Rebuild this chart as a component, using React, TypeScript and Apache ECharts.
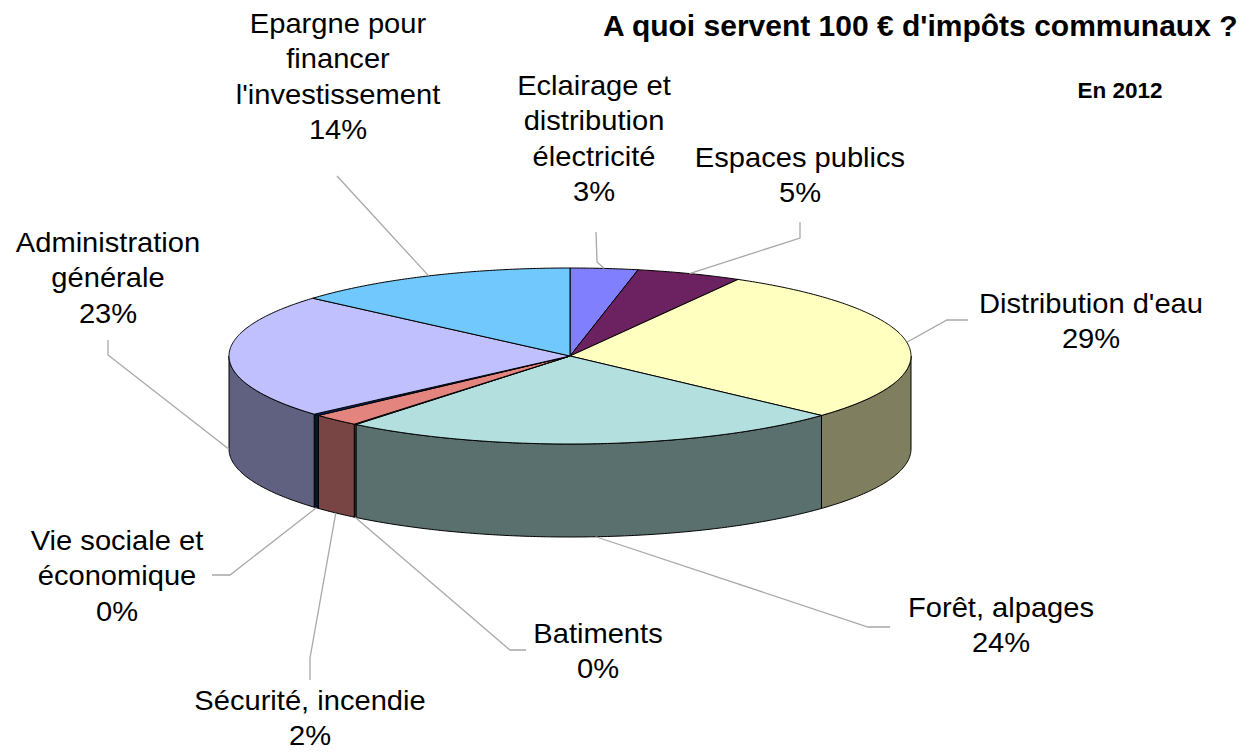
import React, { useEffect, useRef } from "react";
import * as echarts from "echarts";

// ---- data ----
const categories = [
  "Eclairage et\ndistribution\nélectricité",
  "Espaces publics",
  "Distribution d'eau",
  "Forêt, alpages",
  "Batiments",
  "Sécurité, incendie",
  "Vie sociale et\néconomique",
  "Administration\ngénérale",
  "Epargne pour\nfinancer\nl'investissement",
];
const values = [3.2, 5.0, 28.6, 24.0, 0.1, 2.3, 0.3, 22.9, 13.6];
const titleText = "A quoi servent 100 € d'impôts communaux ?";
const subtitleText = "En 2012";

// ---- styles / layout ----
const topColors = ["#8080FF", "#6C2160", "#FFFFC0", "#B3DFDE", "#9A9A9A", "#E3847F", "#0A2A6E", "#C0C0FF", "#70C8FC"];
const sideColors = ["#404080", "#361030", "#7F7F60", "#59706E", "#4D4D4D", "#784444", "#051537", "#606080", "#38647E"];
const labelPos: number[][] = [
  [594, 67], [800, 139], [1091, 285], [1001, 589], [598, 615], [310, 682], [117, 522], [108, 224], [338, 5],
];
const leaderPts: number[][][] = [
  [[596, 232], [597, 262]],
  [[800, 222], [800, 238]],
  [[968, 320], [947, 320]],
  [[890, 627], [868, 627]],
  [[526, 650], [510, 650]],
  [[310, 680], [310, 658]],
  [[212, 575], [230, 575]],
  [[108, 340], [108, 355]],
  [[337, 176]],
];
const CX = 570, CY = 356, RX = 341, RY = 88, DEPTH = 93;
const FONT = '28px "Liberation Sans", Arial, sans-serif';
const SX = 1.04;
const LINE_H = 35.5;

export default function App() {
  const ref = useRef<HTMLDivElement>(null);
  useEffect(() => {
    if (!ref.current) return;
    const chart = echarts.init(ref.current, undefined, { renderer: "svg" });
    const total = values.reduce((a, b) => a + b, 0);
    const cum: number[] = [];
    let acc = 0;
    values.forEach((v) => { cum.push(acc); acc += v; });
    const TWO_PI = Math.PI * 2;

    const renderItem = (params: any, api: any) => {
      const i = params.dataIndex;
      const v = api.value(0) as number;
      const a0 = (cum[i] / total) * TWO_PI;
      const a1 = a0 + (v / total) * TWO_PI;
      const pt = (a: number, dy = 0) => [CX + RX * Math.sin(a), CY - RY * Math.cos(a) + dy];
      const arc = (s: number, e: number, dy = 0) => {
        const n = Math.max(2, Math.ceil(Math.abs(e - s) / 0.01));
        const out: number[][] = [];
        for (let k = 0; k <= n; k++) out.push(pt(s + ((e - s) * k) / n, dy));
        return out;
      };
      const children: any[] = [];
      const w0 = Math.max(a0, Math.PI / 2);
      const w1 = Math.min(a1, (3 * Math.PI) / 2);
      if (w1 > w0) {
        const wall = [...arc(w0, w1), ...arc(w1, w0, DEPTH)];
        children.push({
          type: "polygon",
          shape: { points: wall },
          style: { fill: sideColors[i], stroke: "#000", lineWidth: 1 },
        });
      }
      const top = [[CX, CY], ...arc(a0, a1)];
      children.push({
        type: "polygon",
        shape: { points: top },
        style: { fill: topColors[i], stroke: "#000", lineWidth: 1 },
      });
      const mid = (a0 + a1) / 2;
      const anchor = mid > Math.PI / 2 && mid <= (3 * Math.PI) / 2 ? pt(mid, DEPTH) : pt(mid);
      children.push({
        type: "polyline",
        shape: { points: [...leaderPts[i], anchor] },
        style: { stroke: "#A8A8A8", lineWidth: 1.3, fill: null },
      });
      children.push({
        type: "text",
        x: labelPos[i][0],
        y: labelPos[i][1],
        scaleX: SX,
        style: {
          text: categories[i] + "\n" + Math.round(v) + "%",
          x: 0,
          y: 0,
          align: "center",
          verticalAlign: "top",
          textAlign: "center",
          textVerticalAlign: "top",
          font: FONT,
          lineHeight: LINE_H,
          fill: "#000",
        },
      });
      return { type: "group", children };
    };

    chart.setOption({
      animation: false,
      backgroundColor: "#ffffff",
      graphic: [
        {
          type: "text",
          x: 603,
          y: 25,
          style: {
            text: titleText,
            x: 0,
            y: 0,
            align: "left",
            verticalAlign: "middle",
            textAlign: "left",
            textVerticalAlign: "middle",
            font: 'bold 30px "Liberation Sans", Arial, sans-serif',
            fill: "#000",
          },
        },
        {
          type: "text",
          x: 1120,
          y: 90,
          style: {
            text: subtitleText,
            x: 0,
            y: 0,
            align: "center",
            verticalAlign: "middle",
            textAlign: "center",
            textVerticalAlign: "middle",
            font: 'bold 22.5px "Liberation Sans", Arial, sans-serif',
            fill: "#000",
          },
        },
      ],
      series: [
        {
          type: "custom",
          coordinateSystem: "none",
          renderItem,
          data: values,
          silent: true,
        },
      ],
    });
    return () => chart.dispose();
  }, []);
  return (
    <div
      ref={ref}
      style={{ position: "fixed", left: 0, top: 0, width: 1254, height: 753, background: "#fff" }}
    />
  );
}
